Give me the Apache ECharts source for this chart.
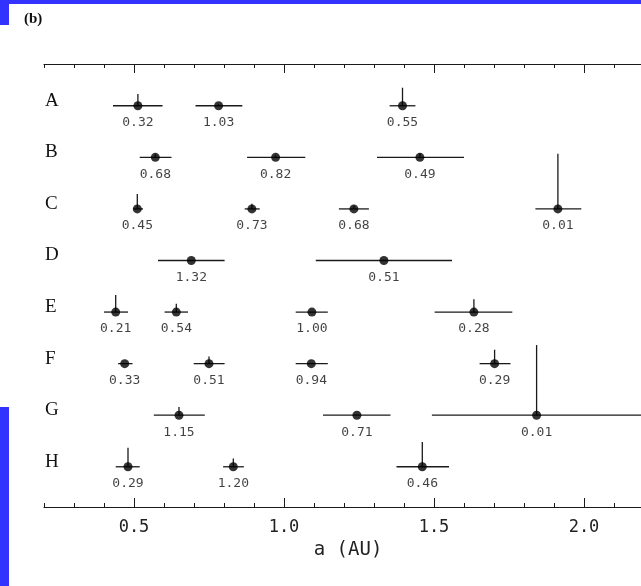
<!DOCTYPE html>
<html>
<head>
<meta charset="utf-8">
<script src="https://cdn.jsdelivr.net/npm/echarts@6/dist/echarts.min.js"></script>
<style>
  html, body { margin: 0; padding: 0; background: #fff; }
  #chart { width: 641px; height: 586px; }
</style>
</head>
<body>
<div id="chart"></div>
<script>
// ---- data ----
const rowNames = ['A', 'B', 'C', 'D', 'E', 'F', 'G', 'H'];
const xTickLabels = [0.5, 1.0, 1.5, 2.0];
// one entry per planet: row index, semi-major axis a, error range, upward bar (in row units), label
const pointRow   = [0, 0, 0,   1, 1, 1,   2, 2, 2, 2,   3, 3,   4, 4, 4, 4,   5, 5, 5, 5,   6, 6, 6,   7, 7, 7];
const pointA     = [0.513, 0.782, 1.395,   0.571, 0.972, 1.453,   0.511, 0.893, 1.233, 1.913,   0.691, 1.333,
                    0.439, 0.641, 1.093, 1.633,   0.469, 0.750, 1.091, 1.702,   0.650, 1.243, 1.842,   0.480, 0.831, 1.461];
const pointLo    = [0.430, 0.705, 1.352,   0.519, 0.877, 1.310,   0.497, 0.869, 1.183, 1.838,   0.580, 1.106,
                    0.400, 0.602, 1.039, 1.502,   0.447, 0.699, 1.039, 1.652,   0.566, 1.130, 1.493,   0.439, 0.797, 1.375];
const pointHi    = [0.595, 0.861, 1.438,   0.625, 1.071, 1.600,   0.530, 0.919, 1.283, 1.991,   0.802, 1.560,
                    0.480, 0.680, 1.146, 1.761,   0.495, 0.802, 1.146, 1.755,   0.736, 1.355, 2.250,   0.519, 0.866, 1.550];
const pointUp    = [0.23, 0.03, 0.35,   0.06, 0.04, 0.08,   0.29, 0.10, 0.06, 1.07,   0.00, 0.00,
                    0.33, 0.16, 0.00, 0.25,   0.00, 0.14, 0.00, 0.27,   0.16, 0.00, 1.36,   0.37, 0.16, 0.48];
const pointLabel = ['0.32', '1.03', '0.55',   '0.68', '0.82', '0.49',   '0.45', '0.73', '0.68', '0.01',   '1.32', '0.51',
                    '0.21', '0.54', '1.00', '0.28',   '0.33', '0.51', '0.94', '0.29',   '1.15', '0.71', '0.01',   '0.29', '1.20', '0.46'];

// ---- build ----
const pts = pointA.map((a, i) => [a, pointRow[i], pointLo[i], pointHi[i], pointUp[i], pointLabel[i]]);
const ink = '#1a1a1a';
const monoFont = '"DejaVu Sans Mono", monospace';
const xMin = 0.2, xMax = 2.19;

function baseX(pos) {
  return {
    type: 'value', position: pos, min: xMin, max: xMax, gridIndex: 0,
    splitLine: { show: false }
  };
}

const chart = echarts.init(document.getElementById('chart'), null, { renderer: 'canvas' });
chart.setOption({
  backgroundColor: '#fff',
  animation: false,
  grid: { left: 44, right: 0, top: 64, bottom: 79, containLabel: false },
  graphic: [
    { type: 'rect', shape: { x: 0, y: 0, width: 641, height: 4 }, style: { fill: '#3333ff' } },
    { type: 'rect', shape: { x: 0, y: 0, width: 9, height: 25 }, style: { fill: '#3333ff' } },
    { type: 'rect', shape: { x: 0, y: 407, width: 9, height: 179 }, style: { fill: '#3333ff' } },
    { type: 'text', left: 24, top: 12, style: { text: '(b)', font: 'bold 15px "Liberation Serif", serif', fill: '#111' } }
  ],
  xAxis: [
    Object.assign(baseX('bottom'), {
      interval: 0.1,
      axisLine: { show: true, onZero: false, lineStyle: { color: ink, width: 1.2 } },
      axisTick: { show: true, inside: true, length: 4, lineStyle: { color: ink, width: 1 } },
      axisLabel: {
        show: true, customValues: xTickLabels, margin: 12,
        formatter: v => v.toFixed(1),
        fontFamily: monoFont, fontSize: 17, color: '#222'
      },
      name: 'a (AU)', nameLocation: 'middle', nameGap: 33,
      nameTextStyle: { fontFamily: monoFont, fontSize: 19, color: '#222', padding: [0, 0, 0, 11] }
    }),
    Object.assign(baseX('bottom'), {
      axisLine: { show: false, onZero: false },
      axisTick: { show: true, inside: true, length: 9, customValues: xTickLabels, lineStyle: { color: ink, width: 1 } },
      axisLabel: { show: false }
    }),
    Object.assign(baseX('top'), {
      interval: 0.1,
      axisLine: { show: true, onZero: false, lineStyle: { color: ink, width: 1.2 } },
      axisTick: { show: true, inside: true, length: 4, lineStyle: { color: ink, width: 1 } },
      axisLabel: { show: false }
    }),
    Object.assign(baseX('top'), {
      axisLine: { show: false, onZero: false },
      axisTick: { show: true, inside: true, length: 9, customValues: xTickLabels, lineStyle: { color: ink, width: 1 } },
      axisLabel: { show: false }
    })
  ],
  yAxis: {
    type: 'value', min: -0.81, max: 7.78, inverse: true,
    axisLine: { show: false, onZero: false }, axisTick: { show: false }, splitLine: { show: false },
    axisLabel: {
      show: true, inside: true, margin: 1,
      customValues: rowNames.map((_, i) => i),
      formatter: v => rowNames[Math.round(v)] || '',
      fontFamily: '"Liberation Serif", serif', fontSize: 19, color: '#111',
      verticalAlign: 'bottom', lineHeight: 10
    }
  },
  series: [
    {
      type: 'custom',
      xAxisIndex: 0, yAxisIndex: 0,
      clip: true,
      data: pts,
      encode: { x: 0, y: 1 },
      renderItem: function (params, api) {
        const a = api.value(0), row = api.value(1), lo = api.value(2), hi = api.value(3), up = api.value(4);
        const pLo = api.coord([lo, row]);
        const pHi = api.coord([hi, row]);
        const pC = api.coord([a, row]);
        const pUp = api.coord([a, row - up]);
        const st = { stroke: ink, lineWidth: 1.3 };
        const children = [
          { type: 'line', shape: { x1: pLo[0], y1: pLo[1], x2: pHi[0], y2: pHi[1] }, style: st }
        ];
        if (up > 0) {
          children.push({ type: 'line', shape: { x1: pC[0], y1: pC[1], x2: pUp[0], y2: pUp[1] }, style: st });
        }
        return { type: 'group', children: children };
      }
    },
    {
      type: 'scatter',
      xAxisIndex: 0, yAxisIndex: 0,
      data: pts,
      encode: { x: 0, y: 1 },
      symbol: 'circle', symbolSize: 9,
      itemStyle: { color: '#000' },
      label: {
        show: true, position: 'bottom', distance: 6,
        formatter: p => p.value[5],
        fontFamily: monoFont, fontSize: 13, color: '#111'
      },
      z: 5
    }
  ]
});
</script>
</body>
</html>
